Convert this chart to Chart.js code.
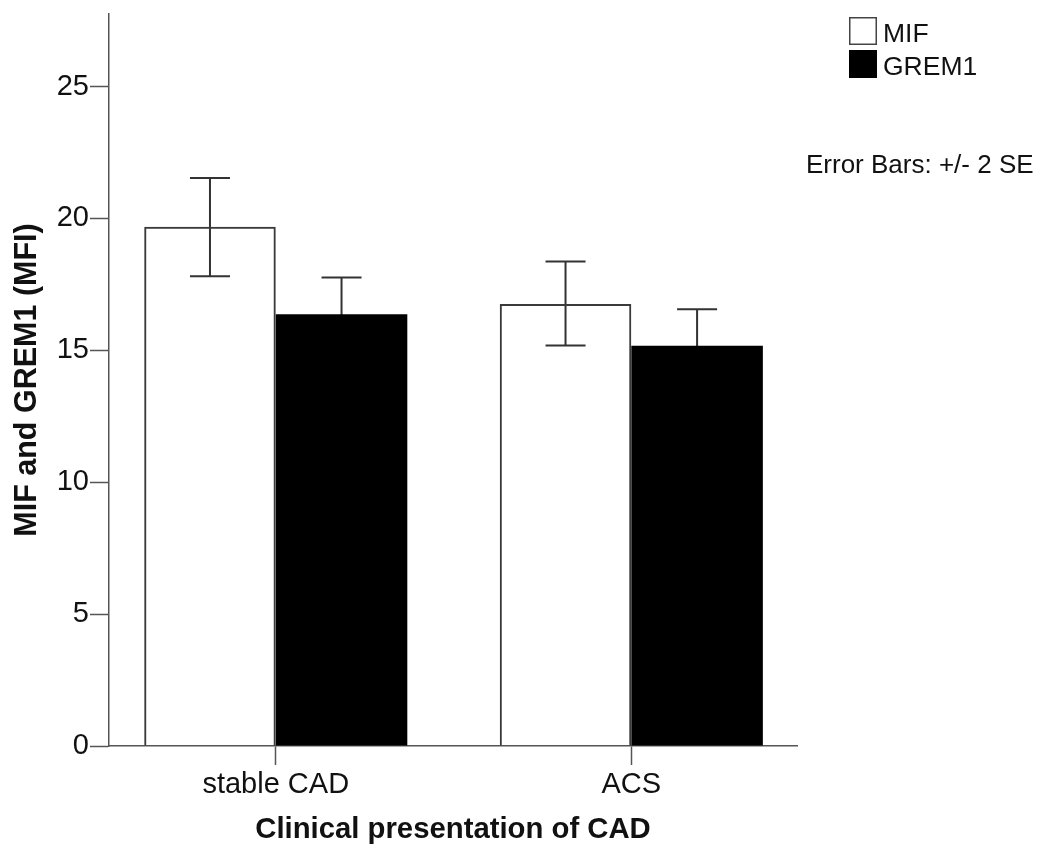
<!DOCTYPE html>
<html>
<head>
<meta charset="utf-8">
<title>MIF and GREM1 by clinical presentation of CAD</title>
<script src="https://cdn.jsdelivr.net/npm/chart.js@4.4.1/dist/chart.umd.min.js"></script>
<style>
  html, body { margin: 0; padding: 0; background: #fff; }
  #wrap { width: 1040px; height: 845px; position: relative; }
</style>
</head>
<body>
<div id="wrap"><canvas id="chart"></canvas></div>
<script>
// values
const categories = ["stable CAD", "ACS"];
const categoryPositions = [1, 2];
const mifValues = [19.68, 16.76];
const mifErrLow = [17.81, 15.18];
const mifErrHigh = [21.53, 18.37];
const grem1Values = [16.37, 15.17];
const grem1ErrLow = [14.98, 13.78];
const grem1ErrHigh = [17.76, 16.56];
const yTicks = [0, 5, 10, 15, 20, 25];
const errorNote = "Error Bars: +/- 2 SE";

const FONT = "'Liberation Sans', Arial, Helvetica, sans-serif";
const INK = "#111";
const LINE = "#555";

function toPoints(values) {
    return categoryPositions.map((x, i) => ({ x: x, y: values[i] }));
}

// error bars drawn under the bars, so the black bars hide their lower half
const errorBarPlugin = {
    id: "errorBars",
    beforeDatasetsDraw(chart) {
        const ctx = chart.ctx;
        const y = chart.scales.y;
        ctx.save();
        ctx.strokeStyle = "#333";
        ctx.lineWidth = 2;
        chart.data.datasets.forEach((ds, di) => {
            const meta = chart.getDatasetMeta(di);
            meta.data.forEach((bar, i) => {
                const top = y.getPixelForValue(ds.errHigh[i]);
                const bottom = y.getPixelForValue(ds.errLow[i]);
                const half = 20;
                ctx.beginPath();
                ctx.moveTo(bar.x, top);
                ctx.lineTo(bar.x, bottom);
                ctx.moveTo(bar.x - half, top);
                ctx.lineTo(bar.x + half, top);
                ctx.moveTo(bar.x - half, bottom);
                ctx.lineTo(bar.x + half, bottom);
                ctx.stroke();
            });
        });
        ctx.restore();
    }
};

// legend box and note at the top right, as in the SPSS output
const sideLegendPlugin = {
    id: "sideLegend",
    afterDraw(chart) {
        const ctx = chart.ctx;
        ctx.save();
        const swatches = [
            { fill: "#fff", stroke: "#444", top: 17 },
            { fill: "#000", stroke: "#000", top: 50 }
        ];
        chart.data.datasets.forEach((ds, i) => {
            const s = swatches[i];
            ctx.fillStyle = s.fill;
            ctx.fillRect(849, s.top, 28, 28);
            ctx.strokeStyle = s.stroke;
            ctx.lineWidth = 1.5;
            ctx.strokeRect(849.75, s.top + 0.75, 26.5, 26.5);
            ctx.fillStyle = INK;
            ctx.font = "26.5px " + FONT;
            ctx.textBaseline = "alphabetic";
            ctx.fillText(ds.label, 883, s.top + 25);
        });
        ctx.font = "26px " + FONT;
        ctx.fillText(errorNote, 806, 173);
        ctx.restore();
    }
};

new Chart(document.getElementById("chart"), {
    type: "bar",
    data: {
        datasets: [
            {
                label: "MIF",
                data: toPoints(mifValues),
                errLow: mifErrLow,
                errHigh: mifErrHigh,
                backgroundColor: "rgba(255,255,255,0)",
                borderColor: "#3a3a3a",
                borderWidth: 2
            },
            {
                label: "GREM1",
                data: toPoints(grem1Values),
                errLow: grem1ErrLow,
                errHigh: grem1ErrHigh,
                backgroundColor: "#000",
                borderColor: "#000",
                borderWidth: 0
            }
        ]
    },
    options: {
        responsive: true,
        maintainAspectRatio: false,
        animation: false,
        categoryPercentage: 0.74,
        barPercentage: 1.0,
        layout: { padding: { top: 14, right: 243, left: 0, bottom: 0 } },
        plugins: {
            legend: { display: false },
            tooltip: { enabled: false }
        },
        scales: {
            x: {
                type: "linear",
                min: 0.531,
                max: 2.466,
                offset: false,
                afterBuildTicks: (scale) => {
                    scale.ticks = categoryPositions.map(v => ({ value: v }));
                },
                afterFit: (scale) => {
                    scale.height = 99;
                    scale.paddingLeft = 0;
                    scale.paddingRight = 0;
                },
                grid: {
                    offset: false,
                    drawOnChartArea: false,
                    drawTicks: true,
                    tickLength: 19,
                    tickColor: LINE,
                    tickWidth: 1.5
                },
                border: { display: true, color: LINE, width: 1.5 },
                ticks: {
                    padding: 3,
                    color: INK,
                    font: { family: FONT, size: 29 },
                    maxRotation: 0,
                    callback: (value) => categories[categoryPositions.indexOf(value)]
                },
                title: {
                    display: true,
                    text: "Clinical presentation of CAD",
                    color: INK,
                    font: { family: FONT, size: 29.3, weight: "bold", lineHeight: 1 },
                    padding: { top: 0, bottom: 0 }
                }
            },
            y: {
                min: 0,
                max: 27.75,
                afterBuildTicks: (scale) => {
                    scale.ticks = yTicks.map(v => ({ value: v }));
                },
                afterFit: (scale) => {
                    scale.width = 109;
                    scale.paddingTop = 0;
                    scale.paddingBottom = 0;
                },
                grid: {
                    drawOnChartArea: false,
                    drawTicks: true,
                    tickLength: 19,
                    tickColor: LINE,
                    tickWidth: 1.5
                },
                border: { display: true, color: LINE, width: 1.5 },
                ticks: {
                    padding: 1,
                    color: INK,
                    font: { family: FONT, size: 29 }
                },
                title: {
                    display: true,
                    text: "MIF and GREM1 (MFI)",
                    color: INK,
                    font: { family: FONT, size: 30.5, weight: "bold", lineHeight: 1 },
                    padding: { top: 12, bottom: 0 }
                }
            }
        }
    },
    plugins: [errorBarPlugin, sideLegendPlugin]
});
</script>
</body>
</html>
